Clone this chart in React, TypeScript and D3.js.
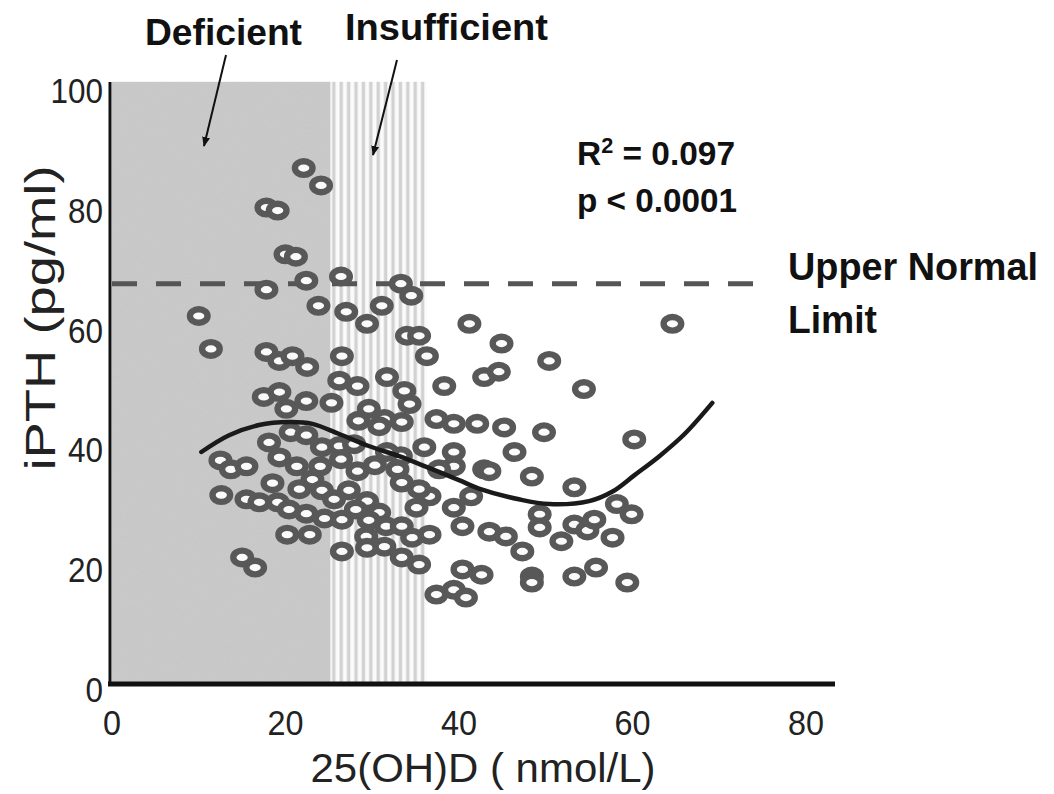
import React from 'react';
import * as d3 from 'd3';

// 25(OH)D (nmol/L) of each subject
const vitD = [
  10.0, 11.4, 17.8, 19.1, 22.1, 24.1, 20.0, 21.2, 22.4, 17.8, 23.8, 26.4, 33.3, 34.5, 31.1, 27.0,
  29.4, 34.0, 35.4, 36.3, 41.2, 44.9, 50.4, 54.4, 64.6, 26.5, 17.8, 19.3, 20.8, 22.5, 17.5, 19.3,
  20.1, 22.4, 25.3, 26.2, 28.3, 31.7, 33.7, 38.3, 42.9, 44.6, 29.6, 34.3, 31.4, 28.4, 33.4, 37.4,
  39.4, 42.1, 45.2, 49.8, 60.2, 30.8, 18.1, 20.6, 22.4, 19.3, 24.2, 26.2, 21.3, 24.0, 26.4, 28.3,
  30.3, 12.5, 13.7, 15.5, 18.5, 23.1, 24.2, 27.3, 12.6, 15.5, 17.0, 19.1, 20.4, 22.4, 24.5, 29.4,
  30.8, 25.6, 20.2, 22.8, 26.5, 29.6, 31.6, 26.5, 29.3, 29.4, 31.4, 15.0, 16.5, 34.6, 33.4, 35.4,
  37.4, 39.4, 40.8, 40.4, 42.6, 33.3, 39.4, 39.4, 42.9, 33.4, 36.6, 35.1, 39.4, 41.4, 33.4, 36.6,
  40.4, 43.5, 45.4, 47.3, 46.4, 43.5, 48.4, 53.3, 49.3, 49.3, 53.3, 54.8, 55.6, 51.8, 57.7, 58.2,
  59.9, 48.4, 48.4, 53.3, 55.8, 59.4, 31.7, 36.0, 32.9, 27.9, 21.6, 28.1, 37.7, 35.4,
];
// iPTH (pg/ml) of each subject
const pth = [
  61.6, 56.1, 79.7, 79.2, 86.3, 83.4, 71.9, 71.5, 67.5, 66.0, 63.3, 68.2, 67.0, 65.0, 63.3, 62.3,
  60.3, 58.3, 58.3, 54.9, 60.3, 57.0, 54.1, 49.4, 60.3, 54.9, 55.6, 54.1, 54.9, 53.1, 48.1, 48.9,
  46.1, 47.4, 47.1, 50.8, 49.9, 51.4, 49.1, 49.9, 51.4, 52.3, 46.1, 46.9, 44.4, 44.1, 43.9, 44.4,
  43.6, 43.6, 43.0, 42.2, 41.0, 43.2, 40.5, 42.2, 41.7, 38.0, 39.7, 39.9, 36.5, 36.5, 37.7, 35.7,
  36.7, 37.5, 36.0, 36.5, 33.7, 34.3, 32.5, 32.5, 31.7, 31.0, 30.5, 30.5, 29.3, 28.6, 27.8, 30.7,
  28.8, 31.0, 25.1, 25.1, 27.6, 27.5, 26.5, 22.3, 24.8, 22.9, 23.1, 21.3, 19.6, 24.6, 21.3, 20.1,
  15.1, 15.9, 14.6, 19.3, 18.4, 38.2, 38.9, 36.5, 36.0, 33.8, 31.5, 29.6, 29.6, 31.5, 26.5, 25.1,
  26.5, 25.6, 24.8, 22.3, 38.9, 35.7, 34.8, 33.0, 28.5, 26.3, 26.8, 25.8, 27.6, 24.0, 24.6, 30.2,
  28.5, 18.1, 17.1, 18.1, 19.6, 17.1, 38.9, 39.7, 36.0, 40.2, 32.7, 29.3, 36.0, 32.7,
];

// fitted regression curve
const fitX = [10.3, 13.5, 16.95, 20.4, 23.1, 26.2, 29.6, 33.1, 36.6, 40.0, 42.3, 46.9, 50.4, 55.0, 57.7, 60.2, 63.1, 66.0, 69.2];
const fitY = [38.9, 41.7, 43.4, 43.9, 43.6, 41.9, 39.9, 38.2, 36.2, 34.2, 32.8, 31.0, 30.2, 30.7, 32.3, 35.0, 38.2, 41.9, 47.1];

const xTicks = [0, 20, 40, 60, 80];
const yTicks = [0, 20, 40, 60, 80, 100];
const upperNormalLimit = 67;
const deficientRange = [0, 25.2];
const insufficientRange = [25.2, 36.3];

const FONT = "'Liberation Sans', Arial, sans-serif";

export default function App() {
  const W = 1054;
  const H = 794;
  const x = d3.scaleLinear().domain([0, 80]).range([112, 806]);
  const y = d3.scaleLinear().domain([0, 100]).range([685, 86]);

  const fitPath = d3
    .line<number>()
    .x((_, i) => x(fitX[i]))
    .y((_, i) => y(fitY[i]))
    .curve(d3.curveCatmullRom.alpha(0.5))(fitX.map((_, i) => i)) || '';

  const regionTop = y(100.7);
  const regionBottom = y(0);

  return (
    <svg
      width={W}
      height={H}
      viewBox={`0 0 ${W} ${H}`}
      style={{ position: 'absolute', left: 0, top: 0, display: 'block', background: '#fff' }}
    >
      <defs>
        <pattern id="stripes" width={7.4} height={10} patternUnits="userSpaceOnUse" x={x(insufficientRange[0])}>
          <rect x={0} y={0} width={7.4} height={10} fill="#fbfbfb" />
          <rect x={1.5} y={0} width={3.4} height={10} fill="#d2d2d2" />
        </pattern>
        <filter id="grain" x="0" y="0" width="100%" height="100%">
          <feTurbulence type="fractalNoise" baseFrequency="0.9" numOctaves={2} seed={3} result="noise" />
          <feColorMatrix type="saturate" values="0" in="noise" result="gray" />
          <feComponentTransfer in="gray" result="soft">
            <feFuncA type="linear" slope={0.12} />
          </feComponentTransfer>
          <feComposite in="soft" in2="SourceGraphic" operator="in" result="clip" />
          <feBlend in="SourceGraphic" in2="clip" mode="multiply" />
        </filter>
        <marker id="arrow" viewBox="0 0 10 10" refX={9} refY={5} markerWidth={5} markerHeight={5} orient="auto">
          <path d="M0,1 L10,5 L0,9 Z" fill="#111" />
        </marker>
      </defs>

      {/* Deficient band */}
      <rect
        x={x(deficientRange[0])}
        y={regionTop}
        width={x(deficientRange[1]) - x(deficientRange[0])}
        height={regionBottom - regionTop}
        fill="#cbcbcb"
        filter="url(#grain)"
      />
      {/* Insufficient band */}
      <rect
        x={x(insufficientRange[0])}
        y={regionTop}
        width={x(insufficientRange[1]) - x(insufficientRange[0])}
        height={regionBottom - regionTop}
        fill="url(#stripes)"
      />

      {/* Upper normal limit */}
      <line
        x1={x(0)}
        x2={x(75.2)}
        y1={y(upperNormalLimit)}
        y2={y(upperNormalLimit)}
        stroke="#555"
        strokeWidth={5}
        strokeDasharray="25 19"
      />

      {/* Points */}
      <g>
        {vitD.map((v, i) => (
          <ellipse
            key={i}
            cx={x(v)}
            cy={y(pth[i])}
            rx={8.8}
            ry={6.8}
            fill="#fafafa"
            stroke="#585858"
            strokeWidth={6.4}
          />
        ))}
      </g>

      {/* Fit curve */}
      <path d={fitPath} fill="none" stroke="#1a1a1a" strokeWidth={4.5} strokeLinecap="round" />

      {/* Axes */}
      <line x1={110} x2={110} y1={82} y2={685} stroke="#111" strokeWidth={3} />
      <line x1={108} x2={835} y1={684} y2={684} stroke="#111" strokeWidth={5} />

      {/* Y tick labels */}
      {yTicks.map((t) => (
        <text
          key={t}
          x={103}
          y={y(t) + 17}
          textAnchor="end"
          fontFamily={FONT}
          fontSize={35}
          fill="#222"
          textLength={String(t).length * 17.5}
          lengthAdjust="spacingAndGlyphs"
        >
          {t}
        </text>
      ))}
      {/* X tick labels */}
      {xTicks.map((t) => (
        <text
          key={t}
          x={x(t)}
          y={735}
          textAnchor="middle"
          fontFamily={FONT}
          fontSize={35}
          fill="#222"
          textLength={String(t).length * 18}
          lengthAdjust="spacingAndGlyphs"
        >
          {t}
        </text>
      ))}

      {/* Axis titles */}
      <text
        x={483}
        y={782}
        textAnchor="middle"
        fontFamily={FONT}
        fontSize={41}
        fill="#222"
        textLength={345}
        lengthAdjust="spacingAndGlyphs"
      >
        25(OH)D ( nmol/L)
      </text>
      <text
        transform="translate(55,318) rotate(-90)"
        textAnchor="middle"
        fontFamily={FONT}
        fontSize={42}
        fill="#222"
        textLength={305}
        lengthAdjust="spacingAndGlyphs"
      >
        iPTH (pg/ml)
      </text>

      {/* Band labels */}
      <text x={145} y={45} fontFamily={FONT} fontWeight="bold" fontSize={37} fill="#111" textLength={157} lengthAdjust="spacingAndGlyphs">
        Deficient
      </text>
      <text x={345} y={40} fontFamily={FONT} fontWeight="bold" fontSize={37} fill="#111" textLength={203} lengthAdjust="spacingAndGlyphs">
        Insufficient
      </text>
      <line x1={226} y1={55} x2={204} y2={146} stroke="#111" strokeWidth={2} markerEnd="url(#arrow)" />
      <line x1={397} y1={60} x2={373} y2={155} stroke="#111" strokeWidth={2} markerEnd="url(#arrow)" />

      {/* Stats */}
      <text x={577} y={165} fontFamily={FONT} fontWeight="bold" fontSize={34} fill="#111" textLength={158} lengthAdjust="spacingAndGlyphs">
        R<tspan fontSize={22} dy={-12}>2</tspan>
        <tspan dy={12}> = 0.097</tspan>
      </text>
      <text x={577} y={212} fontFamily={FONT} fontWeight="bold" fontSize={34} fill="#111" textLength={160} lengthAdjust="spacingAndGlyphs">
        p &lt; 0.0001
      </text>

      {/* Upper normal limit label */}
      <text x={788} y={280} fontFamily={FONT} fontWeight="bold" fontSize={38} fill="#111" textLength={250} lengthAdjust="spacingAndGlyphs">
        Upper Normal
      </text>
      <text x={788} y={333} fontFamily={FONT} fontWeight="bold" fontSize={38} fill="#111" textLength={89} lengthAdjust="spacingAndGlyphs">
        Limit
      </text>
    </svg>
  );
}
